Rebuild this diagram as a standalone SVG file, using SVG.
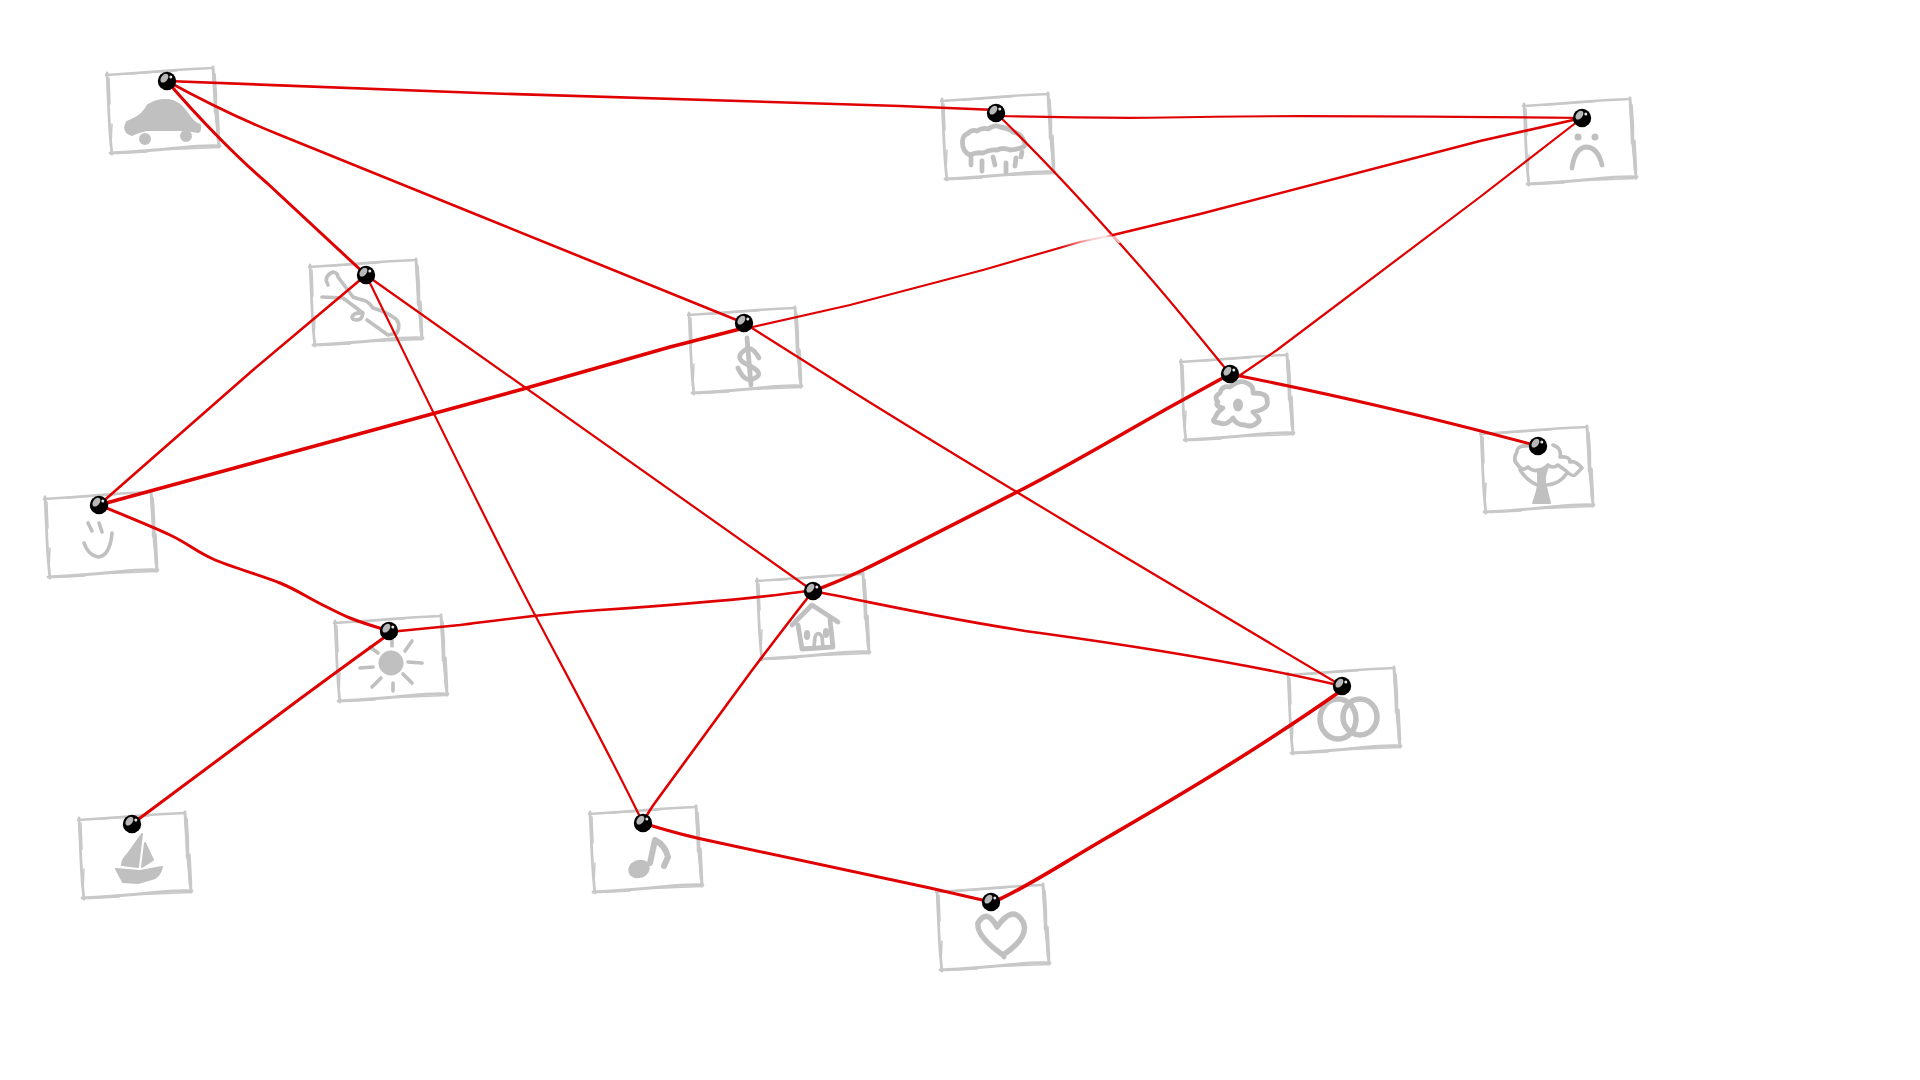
<svg xmlns="http://www.w3.org/2000/svg" width="1920" height="1080" viewBox="0 0 1920 1080">
<style>
.e{fill:none;stroke:#e00000;stroke-linecap:round;stroke-linejoin:round}
.w2{stroke-width:2.200}.w25{stroke-width:2.600}.w3{stroke-width:3}.w35{stroke-width:3.600}
.c{fill:none;stroke:#c8c8c8;stroke-linecap:round;stroke-linejoin:round}
.i{fill:none;stroke:#c0c0c0;stroke-width:4.800;stroke-linecap:round;stroke-linejoin:round}
.t{stroke-width:3.600}
.f{fill:#c0c0c0;stroke:#c0c0c0;stroke-width:2;stroke-linejoin:round}
</style>
<defs>
<g id="card">
<path class="c" stroke-width="2.400" d="M-1 1Q30 -1 55 -3T106 -6"/>
<path class="c" stroke-width="1.200" d="M20 0.500L70 -3"/>
<path class="c" stroke-width="2.800" d="M0 -1Q1 20 2 42T5 80"/>
<path class="c" stroke-width="1.500" d="M2 4L3 30M5 50L4 72"/>
<path class="c" stroke-width="2.800" d="M3 79Q40 77 70 74T113 72"/>
<path class="c" stroke-width="1.500" d="M62 75.500L112 73.500M10 79.500L40 78"/>
<path class="c" stroke-width="3" d="M106 -7Q108 30 110 50T112 73"/>
<path class="c" stroke-width="3.600" d="M107 0Q109 20 108.500 38M110 36L111.500 66"/>
</g>
<g id="pin">
<circle r="9.200" fill="#000"/>
<ellipse cx="-2.600" cy="-2.800" rx="3.200" ry="5" transform="rotate(38 -2.600 -2.800)" fill="#b8b8b8"/>
<circle cx="3.800" cy="-4" r="1.500" fill="#e4e4e4"/>
</g>
<linearGradient id="fade" gradientUnits="userSpaceOnUse" x1="1060" y1="248" x2="1116" y2="234">
<stop offset="0" stop-color="#e00000"/><stop offset="0.55" stop-color="#f8c8c8"/><stop offset="0.82" stop-color="#fbe4e4"/><stop offset="1" stop-color="#e00000"/>
</linearGradient>
</defs>

<g id="node-car"><use href="#card" transform="translate(107 74)"/>
<path class="f" d="M127 122Q136 118 140 115T148 105Q156 100 165 100T180 105Q186 111 190 117T200 125Q201 131 198 132Q189 130 180 130L147 130Q139 131 132 135Q125 133 125 127Z"/>
<circle class="f" cx="145" cy="139" r="5"/><circle class="f" cx="186" cy="136" r="5"/></g>

<g id="node-wrench"><use href="#card" transform="translate(310 266)"/>
<path class="i t" d="M328 285Q323 276 333 272Q338 273 338 277L353 297Q358 299 363 300T373 308Q384 311 393 317Q402 322 397 333L388 335L367 320"/>
<path class="i t" d="M322 297L343 298L363 313Q362 320 357 320T352 317Q354 312 363 313"/></g>

<g id="node-rain"><use href="#card" transform="translate(942 100)"/>
<path class="i" d="M963 147Q961 136 967 134Q972 129 977 131Q983 127 988 129Q995 124 1000 127Q1008 128 1013 132Q1020 133 1023 139Q1027 145 1023 147Q1016 150 1010 150Q1003 147 997 150Q990 149 983 153Q976 152 970 155Q965 153 963 147Z"/>
<path class="i" d="M971 158L971 165M982 161L982 171M993 157L995 165M1006 163L1006 172M1016 158L1015 166M1022 152L1021 157"/></g>

<g id="node-sad"><use href="#card" transform="translate(1524 105)"/>
<circle class="f" cx="1578" cy="137" r="2.500"/><circle class="f" cx="1595" cy="137" r="2.500"/>
<path class="i" d="M1572 168Q1575 147 1587 147Q1598 148 1602 165"/></g>

<g id="node-dollar"><use href="#card" transform="translate(689 314)"/>
<path class="i" d="M759 358Q752 345 745 350Q733 358 748 365Q765 373 755 378Q745 384 738 368"/>
<path class="i" d="M747 338L751 385"/></g>

<g id="node-flower"><use href="#card" transform="translate(1181 361)"/>
<path class="i" d="M1220 393Q1222 385 1230 387Q1240 379 1247 383Q1254 386 1253 393Q1268 393 1267 400Q1270 409 1253 412Q1262 420 1258 422Q1252 428 1245 425Q1236 425 1233 418Q1226 426 1220 423Q1210 422 1215 418Q1217 412 1223 408Q1214 406 1218 402Q1213 397 1220 393Z"/>
<ellipse class="f" cx="1238" cy="405" rx="4" ry="5.500"/></g>

<g id="node-tree"><use href="#card" transform="translate(1481 433)"/>
<path class="i t" d="M1528 446Q1517 445 1517 452Q1512 460 1518 465Q1522 472 1528 467Q1533 472 1538 470Q1543 470 1548 465Q1553 469 1558 465Q1562 468 1565 470Q1572 477 1575 475L1582 468Q1575 460 1570 462Q1570 456 1560 457Q1562 448 1553 445"/>
<path class="i t" d="M1520 470Q1528 482 1538 485M1547 485Q1560 484 1567 473"/>
<path class="f" d="M1533 503Q1538 490 1538 483L1538 470L1548 467Q1544 476 1545 483Q1548 495 1550 503Z"/></g>

<g id="node-smile"><use href="#card" transform="translate(45 498)"/>
<path class="i t" d="M88 523L92 531M99 523L102 532"/>
<path class="i t" d="M84 543Q88 555 98 557Q110 556 112 533"/></g>

<g id="node-sun"><use href="#card" transform="translate(335 622)"/>
<circle class="f" cx="391" cy="663" r="11.500"/>
<path class="i t" d="M392 640L392 646M412 641L405 651M408 662L422 663M403 674L412 683M393 683L393 691M381 678L372 687M373 667L360 668M378 653L370 647"/></g>

<g id="node-house"><use href="#card" transform="translate(757 580)"/>
<path class="i" d="M792 625L812 605L838 622"/>
<path class="i" d="M798 625L802 649L833 647L830 620"/>
<ellipse class="f" cx="807" cy="635" rx="2.200" ry="4"/><ellipse class="f" cx="826" cy="633" rx="2.200" ry="4"/>
<path class="i t" d="M814 647L815 637Q818 630 822 637L823 647"/></g>

<g id="node-rings"><use href="#card" transform="translate(1288 674)"/>
<ellipse class="i" style="stroke-width:5.500" cx="1338" cy="719" rx="18" ry="20"/>
<ellipse class="i" style="stroke-width:5.500" cx="1360" cy="717" rx="17" ry="18"/></g>

<g id="node-boat"><use href="#card" transform="translate(79 819)"/>
<path class="f" d="M142 834L138 867L122 865Q122 860 127 855Z"/>
<path class="f" d="M145 843L153 860L142 867Z"/>
<path class="f" d="M116 869L140 871L162 867Q160 875 155 878L138 883L123 882Z"/></g>

<g id="node-music"><use href="#card" transform="translate(590 813)"/>
<ellipse class="f" cx="639" cy="869" rx="10" ry="8" transform="rotate(-20 639 869)"/>
<path class="i" style="stroke-width:6" d="M650 863L655 840Q665 845 668 857L664 866"/></g>

<g id="node-heart"><use href="#card" transform="translate(937 891)"/>
<path class="i" style="stroke-width:5.500" d="M997 927Q987 908 978 923Q976 936 1003 955Q1030 937 1023 922Q1013 904 997 927Z"/>
<path class="i" d="M1003 955L1004 957"/></g>

<g id="connectors">
<path class="e w25" d="M167 81L480 93L900 106L996 110"/>
<path class="e w2" d="M1000 116Q1120 119 1200 117T1582 118"/>
<path class="e w3" d="M167 81C200 120 240 160 267 183L366 275"/>
<path class="e w25" d="M167 81Q225 113 280 135L480 216L744 323"/>
<path class="e w2" d="M996 113C1050 165 1110 232 1145 272S1210 350 1230 374"/>
<path class="e w2" style="stroke:#f8c0c0" d="M1113 236L1119 242"/>
<path class="e w2" style="stroke:url(#fade)" d="M983 270L1080 242L1113 235"/>
<path class="e w25" d="M1113 235L1200 214L1480 141L1582 118"/>
<path class="e w2" d="M744 329L850 305L983 270"/>
<path class="e w35" d="M99 505L523 389L670 347L744 328"/>
<path class="e w2" d="M1582 118L1480 197L1277 350L1236 378"/>
<path class="e w25" d="M366 275L253 370L99 505"/>
<path class="e w2" d="M366 275L813 591"/>
<path class="e w2" d="M366 275C420 385 490 530 535 615S610 755 643 823"/>
<path class="e w2" d="M744 323L850 390C920 434 1000 482 1083 532L1342 686"/>
<path class="e w3" d="M1230 374Q1310 390 1383 407T1538 446"/>
<path class="e w35" d="M1230 374L1170 407C1120 435 1070 465 1021 490S900 552 863 570Q835 583 813 591"/>
<path class="e w3" d="M99 505C111 510 151 526 170 535C189 544 195 551 213 559C231 567 263 576 280 583C297 590 305 596 317 602C329 608 338 613 350 618C362 623 383 629 389 631"/>
<path class="e w25" d="M389 632L460 625C500 620 540 614 600 610S750 600 813 590"/>
<path class="e w3" d="M389 634C350 662 305 695 273 719L132 824"/>
<path class="e w25" d="M813 591C790 620 775 640 750 673L657 800Q648 812 643 823"/>
<path class="e w25" d="M813 591C890 606 960 622 1040 633S1240 662 1342 686"/>
<path class="e w3" d="M643 823Q680 835 720 843L930 888L991 902"/>
<path class="e w35" d="M1000 899C1030 885 1060 865 1108 837S1250 755 1342 690"/>
</g>

<g id="pins">
<use href="#pin" x="167" y="81"/><use href="#pin" x="366" y="275"/><use href="#pin" x="996" y="113"/>
<use href="#pin" x="1582" y="118"/><use href="#pin" x="744" y="323"/><use href="#pin" x="1230" y="374"/>
<use href="#pin" x="1538" y="446"/><use href="#pin" x="99" y="505"/><use href="#pin" x="389" y="631"/>
<use href="#pin" x="813" y="591"/><use href="#pin" x="1342" y="686"/><use href="#pin" x="132" y="824"/>
<use href="#pin" x="643" y="823"/><use href="#pin" x="991" y="902"/>
</g>
</svg>
